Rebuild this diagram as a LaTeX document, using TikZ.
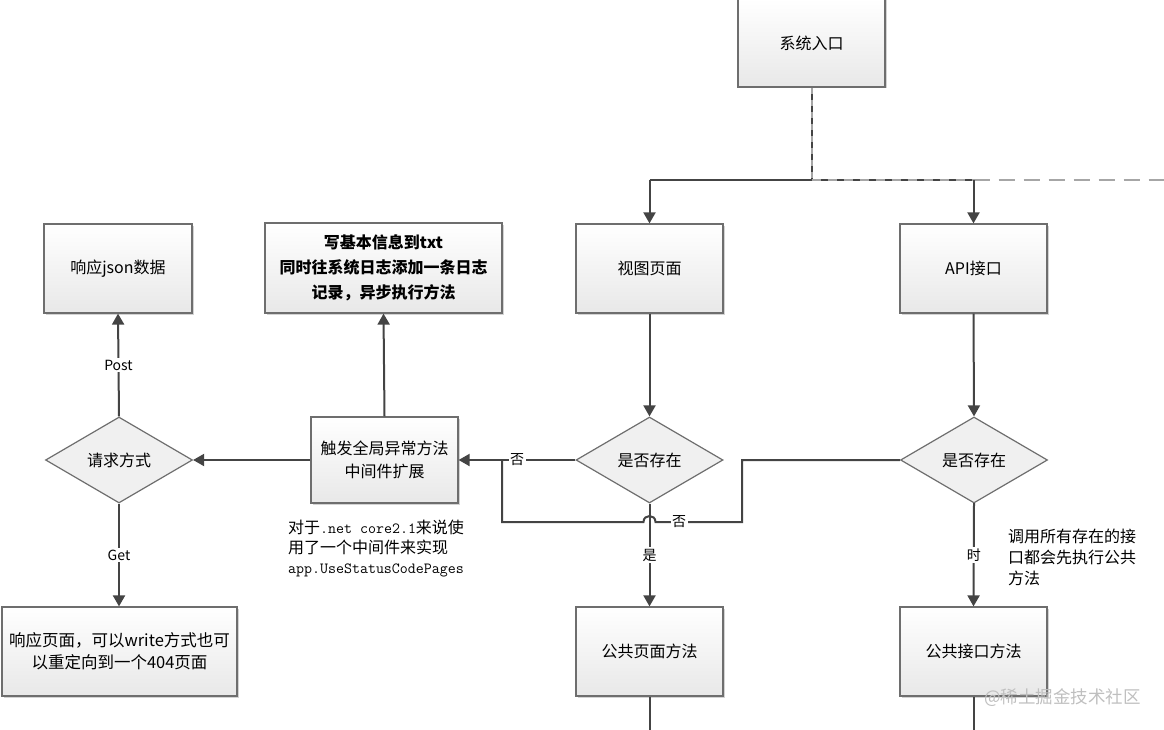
\documentclass[tikz,border=0pt]{standalone}
\usepackage{fontspec}
\setmainfont{Noto Sans CJK SC}
\usetikzlibrary{shapes.geometric,arrows.meta,shadows}
\definecolor{ln}{HTML}{444444}
\definecolor{bd}{HTML}{6E6E6E}
\newcommand{\mtt}[1]{{\ttfamily\fontsize{15.5}{20}\selectfont #1}}
\tikzset{
  box/.style={rectangle, draw=bd, line width=1.2pt, top color=white, bottom color=black!9,
    drop shadow={shadow xshift=1.5pt, shadow yshift=-1.5pt, opacity=0.35},
    minimum width=147pt, minimum height=89pt, inner sep=2pt, align=center,
    font=\fontsize{16}{24}\selectfont},
  dia/.style={diamond, draw=bd, line width=1.2pt, fill=black!6, minimum width=147pt,
    minimum height=86pt, inner sep=0pt, font=\fontsize{16}{24}\selectfont},
  conn/.style={draw=ln, line width=2pt},
  arr/.style={conn, -{Triangle[width=12pt,length=11pt]}},
  lab/.style={fill=white, inner sep=1.5pt, font=\fontsize{14}{16}\selectfont, text=black},
  note/.style={align=left, inner sep=0pt, font=\fontsize{16}{21}\selectfont},
}
\begin{document}
\begin{tikzpicture}[x=1pt,y=-1pt]
\useasboundingbox (0,0) rectangle (1164,730);
% nodes
\node[box, minimum height=88pt] (entry) at (811.5,43) {系统入口};
\node[box] (view) at (649.5,268.5) {视图页面};
\node[box] (api) at (973.5,268.5) {API接口};
\node[box, minimum width=148pt] (json) at (118,268.5) {响应json数据};
\node[box, minimum width=237pt, minimum height=90pt, font=\fontsize{16}{25}\selectfont\bfseries] (write) at (383.5,268) {写基本信息到txt\\同时往系统日志添加一条日志\\记录，异步执行方法};
\node[box, minimum height=86pt, font=\fontsize{16}{23}\selectfont] (trig) at (384.5,460) {触发全局异常方法\\中间件扩展};
\node[dia] (ld) at (649.5,460) {是否存在};
\node[dia] (rd) at (974,460) {是否存在};
\node[dia] (req) at (119,460) {请求方式};
\node[box] (pubpage) at (649.5,651.5) {公共页面方法};
\node[box] (pubapi) at (973.5,651.5) {公共接口方法};
\node[box, minimum width=235pt, font=\fontsize{16.5}{22}\selectfont] (resp) at (119.5,651.5) {响应页面，可以write方式也可\\以重定向到一个404页面};
% notes
\node[note, anchor=north west, font=\fontsize{16}{20}\selectfont] (note1) at (288,520) {对于\mtt{.net core2.1}来说使\\用了一个中间件来实现\\\mtt{app.UseStatusCodePages}};
\node[note, anchor=north west] (note2) at (1008,529) {调用所有存在的接\\口都会先执行公共\\方法};
\node[text=black!25, font=\fontsize{17.5}{18}\selectfont, anchor=west, inner sep=0pt] (wm) at (984,698) {@稀土掘金技术社区};
% coordinates
\coordinate (split) at (811.5,180);
\coordinate (hl) at (649.5,180);
\coordinate (hr) at (973.5,180);
\coordinate (dend) at (1164,180);
\coordinate (c1) at (742,460);
\coordinate (c2) at (742,522);
\coordinate (h1) at (655.5,522);
\coordinate (h2) at (643.5,522);
\coordinate (c3) at (502,522);
\coordinate (c4) at (502,460);
\coordinate (pb) at (649.5,730);
\coordinate (ab) at (973.5,730);
% connectors
\draw[conn] (entry.south) -- (split);
\draw[black!35, line width=2pt, dash pattern=on 6pt off 6pt] (entry.south) -- (split);
\draw[conn] (hl) -- (hr);
\draw[black!35, line width=2pt, dash pattern=on 9pt off 7pt] (split) -- (hr);
\draw[black!35, line width=2pt, dash pattern=on 16pt off 9pt] (hr) -- (dend);
\draw[arr] (hl) -- (view.north);
\draw[arr] (hr) -- (api.north);
\draw[arr] (view.south) -- (ld.north);
\draw[arr] (api.south) -- (rd.north);
\draw[arr] (ld.west) -- node[lab, pos=0.5]{否} (trig.east);
\draw[conn] (rd.west) -- (c1) -- (c2) -- (h1) .. controls (655.5,514) and (643.5,514) .. (h2) -- (c3) -- (c4);
\node[lab] (no2) at (679,522) {否};
\draw[arr] (ld.south) -- node[lab, pos=0.5]{是} (pubpage.north);
\draw[arr] (rd.south |- 0,503) -- node[lab, pos=0.5]{时} (pubapi.north);
\draw[conn] (pubpage.south) -- (pb);
\draw[conn] (pubapi.south) -- (ab);
\draw[arr] (trig.north) -- (write.south);
\draw[arr] (trig.west) -- (req.east);
\draw[arr] (req.north) -- node[lab, pos=0.5]{Post} (json.south);
\draw[arr] (req.south) -- node[lab, pos=0.5]{Get} (resp.north -| req.south);
\end{tikzpicture}
\end{document}
